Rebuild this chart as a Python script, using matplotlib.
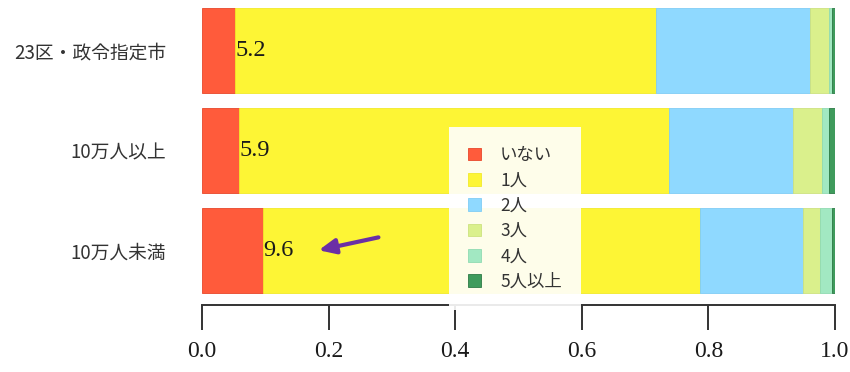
import numpy as np
import matplotlib.pyplot as plt

categories = ['23区・政令指定市', '10万人以上', '10万人未満']
series = ['いない', '1人', '2人', '3人', '4人', '5人以上']
values = np.array([
    [0.052, 0.666, 0.243, 0.029, 0.006, 0.004],
    [0.059, 0.679, 0.196, 0.045, 0.012, 0.009],
    [0.096, 0.690, 0.164, 0.026, 0.020, 0.004],
])
none_pct = ['5.2', '5.9', '9.6']
xticks = [0.0, 0.2, 0.4, 0.6, 0.8, 1.0]

colors = ['#ff5b3b', '#fdf535', '#8fd9ff', '#daf08c', '#a2e8c2', '#3f9b5c']
edges = ['#e8472a', '#f2ea2a', '#80cdf5', '#cde27f', '#90dbb2', '#2d7a45']

jp = ['Noto Sans CJK JP', 'DejaVu Sans']
serif = ['Liberation Serif', 'DejaVu Serif']

fig = plt.figure(figsize=(8.5, 3.72), dpi=100)
ax = fig.add_axes([202 / 850, 1 - 305 / 372, 633 / 850, 305 / 372])

y = np.arange(len(categories))
left = np.zeros(len(categories))
for i, name in enumerate(series):
    ax.barh(y, values[:, i], left=left, height=0.85, color=colors[i],
            edgecolor=edges[i], linewidth=0.6, label=name)
    left += values[:, i]

# percentage of "いない" written at the start of the yellow segment
for k in range(len(categories)):
    ax.text(values[k, 0] + 0.001, y[k], none_pct[k], va='center', ha='left',
            fontsize=17.5, family=serif, color='#1a1a1a')

ax.annotate('', xy=(0.18, 2.0), xytext=(0.283, 1.86),
            arrowprops=dict(arrowstyle='-|>,head_length=1.0,head_width=0.45',
                            color='#6b2fa5', lw=3))

ax.set_xlim(0, 1)
ax.set_ylim(2.54, -0.5)
ax.set_yticks(y)
ax.set_yticklabels(categories, family=jp, fontsize=13.5, color='#333333')
ax.tick_params(axis='y', length=0, pad=26)
ax.set_xticks(xticks)
ax.set_xticklabels([f'{t:.1f}' for t in xticks], family=serif, fontsize=17,
                   color='#1a1a1a')
ax.tick_params(axis='x', length=18, width=1.4, color='#333333', pad=8)

for s in ['top', 'right', 'left']:
    ax.spines[s].set_visible(False)
ax.spines['bottom'].set_linewidth(1.4)
ax.spines['bottom'].set_color('#333333')

leg = ax.legend(loc='upper left', bbox_to_anchor=(449 / 850, 1 - 127 / 372),
                bbox_transform=fig.transFigure, borderaxespad=0,
                prop={'family': jp, 'size': 12.5}, frameon=True, fancybox=False,
                framealpha=0.9, facecolor='white', edgecolor='none',
                handlelength=0.75, handleheight=0.75, handletextpad=1.1,
                borderpad=1.1, labelspacing=0.42)
for t in leg.get_texts():
    t.set_color('#333333')

fig.savefig('out.png', dpi=100)
